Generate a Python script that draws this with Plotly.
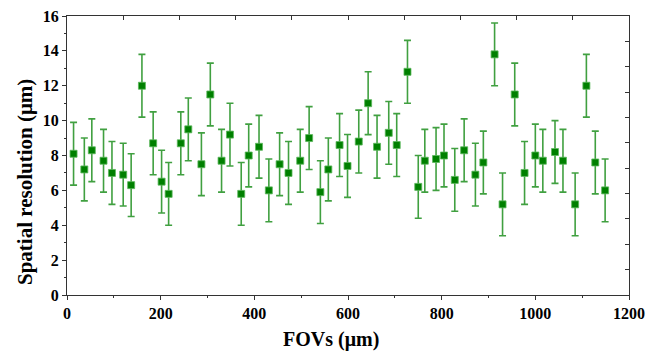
import plotly.graph_objects as go

fov = [14, 37, 53, 78, 96, 120, 137, 160, 184, 202, 217, 243, 259, 287, 306, 330, 348, 372, 388, 410,
       431, 454, 473, 498, 517, 541, 558, 582, 599, 623, 643, 662, 687, 704, 727, 750, 764, 788, 805, 828,
       848, 872, 889, 913, 930, 956, 977, 1000, 1016, 1042, 1059, 1085, 1109, 1128, 1149]
resolution = [8.1, 7.2, 8.3, 7.7, 7.0, 6.9, 6.3, 12.0, 8.7, 6.5, 5.8, 8.7, 9.5, 7.5, 11.5, 7.7, 9.2, 5.8, 8.0, 8.5,
              6.0, 7.5, 7.0, 7.7, 9.0, 5.9, 7.2, 8.6, 7.4, 8.8, 11.0, 8.5, 9.3, 8.6, 12.8, 6.2, 7.7, 7.8, 8.0, 6.6,
              8.3, 6.9, 7.6, 13.8, 5.2, 11.5, 7.0, 8.0, 7.7, 8.2, 7.7, 5.2, 12.0, 7.6, 6.0]
error = [1.8] * len(fov)

x_ticks = [0, 200, 400, 600, 800, 1000, 1200]
y_ticks = [0, 2, 4, 6, 8, 10, 12, 14, 16]
top_ticks = [120 * k for k in range(1, 10)]
right_ticks = [16 / 11 * k for k in range(1, 11)]

FONT = "Liberation Serif"

fig = go.Figure()
fig.add_trace(go.Scatter(
    x=fov, y=resolution, mode="markers",
    marker=dict(symbol="square", size=7, color="#008000",
                line=dict(color="#5cb85c", width=0.8)),
    error_y=dict(type="data", array=error, visible=True,
                 color="rgba(0,128,0,0.75)", thickness=1.6, width=3.5),
    showlegend=False,
))
fig.add_trace(go.Scatter(x=[0], y=[0], xaxis="x2", yaxis="y2", mode="markers",
                         marker=dict(opacity=0), showlegend=False, hoverinfo="skip"))

axis_line = dict(showline=True, linecolor="#333333", linewidth=1.2, showgrid=False,
                 zeroline=False, automargin=False)
tickfont = dict(family=FONT, size=16, color="black", weight="bold")

# page body adds an 8px offset, so the figure is sized 8px smaller in each direction
fig.update_layout(
    width=647, height=344,
    margin=dict(l=59, r=26, t=8, b=57),
    paper_bgcolor="white", plot_bgcolor="white",
    font=dict(family=FONT, size=16, color="black"),
    xaxis=dict(range=[0, 1200], tickmode="array", tickvals=x_ticks,
               ticks="outside", ticklen=4, tickcolor="#333333", tickfont=tickfont,
               ticklabeloverflow="allow",
               minor=dict(dtick=100, ticks="outside", ticklen=2, tickcolor="#333333"),
               **axis_line),
    yaxis=dict(range=[0, 16], tickmode="array", tickvals=y_ticks,
               ticks="outside", ticklen=4, tickcolor="#333333", tickfont=tickfont,
               ticklabeloverflow="allow",
               minor=dict(dtick=1, ticks="outside", ticklen=2, tickcolor="#333333"),
               **axis_line),
    xaxis2=dict(overlaying="x", side="top", range=[0, 1200], tickmode="array", tickvals=top_ticks,
                showticklabels=False, ticks="inside", ticklen=4, tickcolor="#333333", **axis_line),
    yaxis2=dict(overlaying="y", side="right", range=[0, 16], tickmode="array", tickvals=right_ticks,
                showticklabels=False, ticks="inside", ticklen=4, tickcolor="#333333", **axis_line),
    annotations=[
        dict(text="FOVs (μm)", xref="paper", yref="paper", x=0.47, y=-0.161,
             xanchor="center", yanchor="middle", showarrow=False,
             font=dict(family=FONT, size=20, color="black", weight="bold")),
        dict(text="Spatial resolution (μm)", xref="paper", yref="paper", x=-0.0747, y=0.405,
             xanchor="center", yanchor="middle", showarrow=False, textangle=-90,
             font=dict(family=FONT, size=21, color="black", weight="bold")),
    ],
)

fig.write_html("out.html")
